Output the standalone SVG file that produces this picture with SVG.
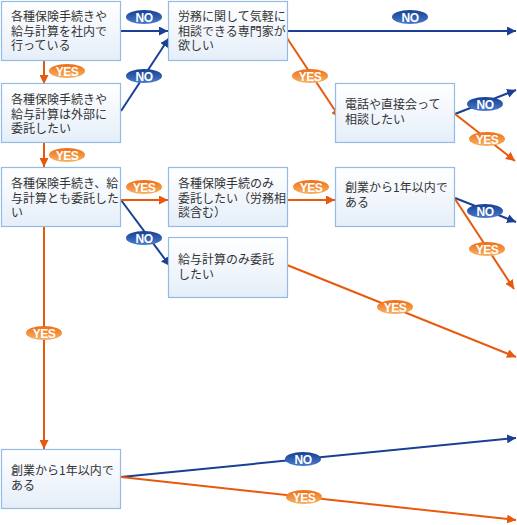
<svg xmlns="http://www.w3.org/2000/svg" width="517" height="525" viewBox="0 0 517 525">
<defs>
<linearGradient id="boxg" x1="0" y1="0" x2="0" y2="1">
<stop offset="0" stop-color="#ffffff"/>
<stop offset="1" stop-color="#e5eef9"/>
</linearGradient>
<linearGradient id="nog" x1="0" y1="0" x2="0" y2="1">
<stop offset="0" stop-color="#163f94"/>
<stop offset="1" stop-color="#4a7ccc"/>
</linearGradient>
<linearGradient id="yesg" x1="0" y1="0" x2="0" y2="1">
<stop offset="0" stop-color="#ee6e14"/>
<stop offset="1" stop-color="#f7b266"/>
</linearGradient>
<marker id="ab" viewBox="0 0 10 10" refX="10" refY="5" markerWidth="9" markerHeight="9" markerUnits="userSpaceOnUse" orient="auto">
<path d="M0,0 L10,5 L0,10 z" fill="#1a3f94"/>
</marker>
<marker id="ao" viewBox="0 0 10 10" refX="10" refY="5" markerWidth="9" markerHeight="9" markerUnits="userSpaceOnUse" orient="auto">
<path d="M0,0 L10,5 L0,10 z" fill="#e8590c"/>
</marker>
</defs>
<style>
.box{fill:url(#boxg);stroke:#94bbe4;stroke-width:1.2}
.t{font-family:"Noto Sans CJK JP","Noto Sans",sans-serif;font-size:12px;fill:#333}
.b{fill:none;stroke:#1a3f94;stroke-width:2;marker-end:url(#ab)}
.o{fill:none;stroke:#e8590c;stroke-width:2;marker-end:url(#ao)}
.nop{fill:url(#nog)}
.yesp{fill:url(#yesg)}
.pt{font-family:"Liberation Sans",Arial,sans-serif;font-size:12px;font-weight:bold;fill:#fff;text-anchor:middle;letter-spacing:-0.5px}
</style>
<rect width="517" height="525" fill="#ffffff"/>
<g id="connectors">
<path class="b" d="M121,31 L168,31"/>
<path class="b" d="M121,111 L169,38"/>
<path class="b" d="M287,31 L516,31"/>
<path class="b" d="M455,114 L516,90"/>
<path class="b" d="M121,200 L170,266"/>
<path class="b" d="M455,198 L516,222"/>
<path class="b" d="M121,477 L516,438"/>
<path class="o" d="M44,60 L44,84"/>
<path class="o" d="M44,143 L44,167"/>
<path class="o" d="M287,38 L340,118"/>
<path class="o" d="M455,114 L515,161"/>
<path class="o" d="M121,200 L168,200"/>
<path class="o" d="M44,227 L44,449"/>
<path class="o" d="M287,200 L335,200"/>
<path class="o" d="M455,199 L514,289"/>
<path class="o" d="M287,265 L516,357"/>
<path class="o" d="M121,477 L516,520"/>
</g>
<g id="labels">
<g><ellipse class="nop" cx="144" cy="17" rx="18" ry="7"/><text class="pt" x="144" y="21.5">NO</text></g>
<g><ellipse class="nop" cx="144" cy="76" rx="18" ry="7"/><text class="pt" x="144" y="80.5">NO</text></g>
<g><ellipse class="nop" cx="410" cy="17" rx="18" ry="7"/><text class="pt" x="410" y="21.5">NO</text></g>
<g><ellipse class="nop" cx="485" cy="104" rx="18" ry="7"/><text class="pt" x="485" y="108.5">NO</text></g>
<g><ellipse class="nop" cx="144" cy="238" rx="18" ry="7"/><text class="pt" x="144" y="242.5">NO</text></g>
<g><ellipse class="nop" cx="485" cy="211" rx="18" ry="7"/><text class="pt" x="485" y="215.5">NO</text></g>
<g><ellipse class="nop" cx="303" cy="459" rx="18" ry="7"/><text class="pt" x="303" y="463.5">NO</text></g>
<g><ellipse class="yesp" cx="67" cy="71" rx="18" ry="7"/><text class="pt" x="67" y="75.5">YES</text></g>
<g><ellipse class="yesp" cx="67" cy="155" rx="18" ry="7"/><text class="pt" x="67" y="159.5">YES</text></g>
<g><ellipse class="yesp" cx="310" cy="76" rx="18" ry="7"/><text class="pt" x="310" y="80.5">YES</text></g>
<g><ellipse class="yesp" cx="487" cy="139" rx="18" ry="7"/><text class="pt" x="487" y="143.5">YES</text></g>
<g><ellipse class="yesp" cx="144" cy="187" rx="18" ry="7"/><text class="pt" x="144" y="191.5">YES</text></g>
<g><ellipse class="yesp" cx="44" cy="333" rx="18" ry="7"/><text class="pt" x="44" y="337.5">YES</text></g>
<g><ellipse class="yesp" cx="311" cy="187" rx="18" ry="7"/><text class="pt" x="311" y="191.5">YES</text></g>
<g><ellipse class="yesp" cx="487" cy="249" rx="18" ry="7"/><text class="pt" x="487" y="253.5">YES</text></g>
<g><ellipse class="yesp" cx="395" cy="307" rx="18" ry="7"/><text class="pt" x="395" y="311.5">YES</text></g>
<g><ellipse class="yesp" cx="304" cy="497" rx="18" ry="7"/><text class="pt" x="304" y="501.5">YES</text></g>
</g>
<g id="nodeA"><rect class="box" x="1.5" y="1.5" width="119" height="59"/>
<text class="t"><tspan x="11" y="21">各種保険手続きや</tspan><tspan x="11" y="35.5">給与計算を社内で</tspan><tspan x="11" y="50">行っている</tspan></text></g>
<g id="nodeB"><rect class="box" x="168.5" y="1.5" width="119" height="59"/>
<text class="t"><tspan x="178" y="21">労務に関して気軽に</tspan><tspan x="178" y="35.5">相談できる専門家が</tspan><tspan x="178" y="50">欲しい</tspan></text></g>
<g id="nodeC"><rect class="box" x="1.5" y="83.5" width="119" height="59"/>
<text class="t"><tspan x="11" y="104">各種保険手続きや</tspan><tspan x="11" y="118.5">給与計算は外部に</tspan><tspan x="11" y="133">委託したい</tspan></text></g>
<g id="nodeG"><rect class="box" x="335.5" y="83.5" width="119" height="59"/>
<text class="t"><tspan x="345" y="109">電話や直接会って</tspan><tspan x="345" y="123.5">相談したい</tspan></text></g>
<g id="nodeD"><rect class="box" x="1.5" y="167.5" width="119" height="59"/>
<text class="t"><tspan x="11" y="188">各種保険手続き、給</tspan><tspan x="11" y="202.5">与計算とも委託した</tspan><tspan x="11" y="217">い</tspan></text></g>
<g id="nodeE"><rect class="box" x="168.5" y="167.5" width="119" height="59"/>
<text class="t"><tspan x="178" y="188">各種保険手続のみ</tspan><tspan x="178" y="202.5">委託したい（労務相</tspan><tspan x="178" y="217">談含む）</tspan></text></g>
<g id="nodeH"><rect class="box" x="335.5" y="167.5" width="119" height="59"/>
<text class="t"><tspan x="345" y="192">創業から1年以内で</tspan><tspan x="345" y="206.5">ある</tspan></text></g>
<g id="nodeF"><rect class="box" x="168.5" y="237.5" width="119" height="60"/>
<text class="t"><tspan x="178" y="264">給与計算のみ委託</tspan><tspan x="178" y="278.5">したい</tspan></text></g>
<g id="nodeI"><rect class="box" x="1.5" y="449.5" width="119" height="59"/>
<text class="t"><tspan x="11" y="475">創業から1年以内で</tspan><tspan x="11" y="489.5">ある</tspan></text></g>
</svg>
